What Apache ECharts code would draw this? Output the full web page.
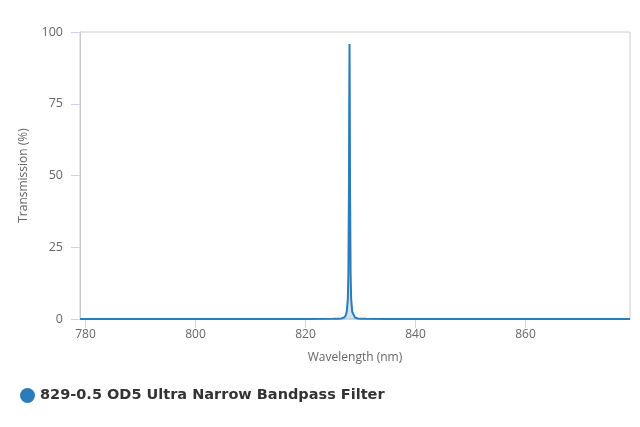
<!DOCTYPE html>
<html>
<head>
<meta charset="utf-8">
<title>829-0.5 OD5 Ultra Narrow Bandpass Filter</title>
<script src="https://cdn.jsdelivr.net/npm/echarts@6/dist/echarts.min.js"></script>
<style>
    html, body { margin: 0; padding: 0; background: #ffffff; }
    #chart { width: 640px; height: 427px; }
</style>
</head>
<body>
<div id="chart"></div>
<script>
// values
var seriesName = '829-0.5 OD5 Ultra Narrow Bandpass Filter';
var wavelengths = [779, 790, 800, 810, 820, 825, 826, 826.5, 827, 827.3, 827.5, 827.7, 827.8, 827.9, 827.95,
    828, 828.05, 828.1, 828.2, 828.3, 828.5, 829, 829.5, 830, 831, 835, 840, 850, 860, 870, 879];
var transmission = [0, 0, 0, 0, 0, 0.05, 0.1, 0.2, 0.5, 1.2, 2.5, 7, 16, 45, 75,
    95.8, 75, 45, 16, 7, 2.5, 0.5, 0.2, 0.1, 0.05, 0, 0, 0, 0, 0, 0];
var xTicks = [780, 800, 820, 840, 860];

var axisFont = 'Open Sans';

var chart = echarts.init(document.getElementById('chart'), null, { renderer: 'canvas' });

var option = {
    backgroundColor: '#ffffff',
    animation: false,
    grid: {
        left: 80,
        right: 10,
        top: 32,
        bottom: 108,
        show: true,
        borderColor: '#cccccc',
        borderWidth: 1
    },
    legend: {
        left: 20,
        top: 388,
        padding: 0,
        icon: 'circle',
        itemWidth: 15,
        itemHeight: 15,
        itemGap: 10,
        textStyle: {
            fontFamily: 'DejaVu Sans',
            fontWeight: 'bold',
            fontSize: 14.5,
            color: '#333333'
        },
        data: [seriesName]
    },
    xAxis: {
        type: 'value',
        min: 779,
        max: 879,
        name: 'Wavelength (nm)',
        nameLocation: 'middle',
        nameGap: 33,
        nameTextStyle: { fontFamily: axisFont, fontSize: 12, color: '#666666' },
        axisLine: { show: true, lineStyle: { color: '#ccd6eb' } },
        axisTick: { show: true, length: 9, lineStyle: { color: '#ccd6eb' }, customValues: xTicks },
        axisLabel: { fontFamily: axisFont, fontSize: 12, color: '#666666', margin: 10, customValues: xTicks },
        splitLine: { show: false }
    },
    yAxis: {
        type: 'value',
        min: 0,
        max: 100,
        interval: 25,
        name: 'Transmission (%)',
        nameLocation: 'middle',
        nameGap: 50,
        nameTextStyle: { fontFamily: axisFont, fontSize: 12, color: '#666666' },
        axisLine: { show: true, lineStyle: { color: '#c8c8c8' } },
        axisTick: { show: true, length: 9, lineStyle: { color: '#ccd6eb' } },
        axisLabel: { fontFamily: axisFont, fontSize: 12.5, color: '#666666', margin: 17 },
        splitLine: { show: false }
    },
    series: [{
        name: seriesName,
        type: 'line',
        showSymbol: false,
        smooth: false,
        color: '#2b7cb9',
        lineStyle: { width: 2, color: '#2b7cb9' },
        areaStyle: { color: 'rgba(43,124,185,0.3)' },
        data: wavelengths.map(function (w, i) { return [w, transmission[i]]; })
    }]
};

chart.setOption(option);
</script>
</body>
</html>
